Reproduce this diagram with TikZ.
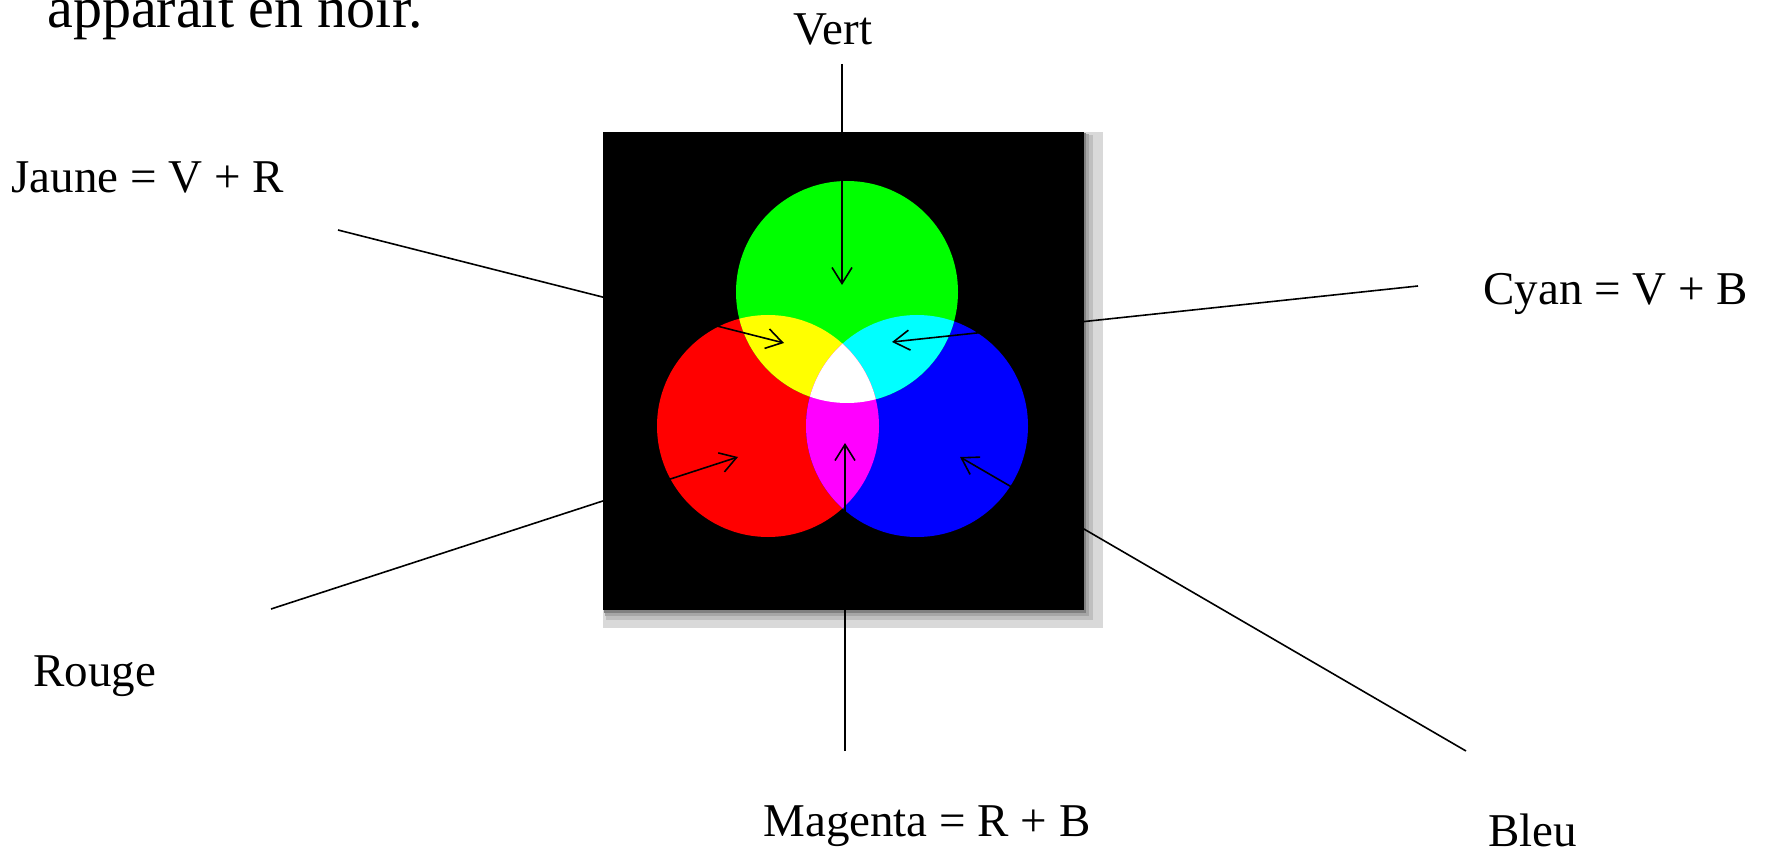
\documentclass[tikz,border=0pt]{standalone}
\usepackage{fontspec}
\setmainfont{Liberation Serif}
\usetikzlibrary{arrows.meta}
\definecolor{cR}{RGB}{255,0,0}
\definecolor{cG}{RGB}{0,255,0}
\definecolor{cB}{RGB}{0,0,255}
\definecolor{cY}{RGB}{255,255,0}
\definecolor{cC}{RGB}{0,255,255}
\definecolor{cM}{RGB}{255,0,255}
\definecolor{cW}{RGB}{255,255,255}
\begin{document}
\begin{tikzpicture}[x=0.5pt,y=-0.5pt,
  lbl/.style={inner sep=0pt, font=\fontsize{23.5}{28}\selectfont},
  callout/.style={line width=0.8pt, -{Straight Barb[length=8pt,width=10pt]}}]
\useasboundingbox (0,0) rectangle (1768,850);
\clip (0,0) rectangle (1768,850);
\node[inner sep=0pt, anchor=base west, font=\fontsize{29}{34}\selectfont] (top) at (47,28) {apparaît en noir.};
% panel with shadow
\fill[black!15] (603,132) rectangle (1103,628);
\fill[black!25] (606,135) rectangle (1093,620);
\fill[black!35] (605,134) rectangle (1089,616);
\fill[black!50] (604,133) rectangle (1086,613);
\fill[black] (603,132) rectangle (1084,610);
% circles
\coordinate (G) at (847,292);
\coordinate (R) at (768,426);
\coordinate (B) at (917,426);
\fill[cR] (R) circle (55.5pt);
\fill[cB] (B) circle (55.5pt);
\fill[cG] (G) circle (55.5pt);
\begin{scope}
  \clip (G) circle (55.5pt);
  \fill[cC] (B) circle (55.5pt);
\end{scope}
\begin{scope}
  \clip (R) circle (55.5pt);
  \fill[cY] (G) circle (55.5pt);
  \fill[cM] (B) circle (55.5pt);
  \clip (G) circle (55.5pt);
  \fill[cW] (B) circle (55.5pt);
\end{scope}
% labels
\node[lbl, anchor=base] (vert) at (833,45) {Vert};
\node[lbl, anchor=base west] (jaune) at (11,193) {Jaune = V + R};
\node[lbl, anchor=base west] (cyanl) at (1483,305) {Cyan = V + B};
\node[lbl, anchor=base west] (rouge) at (33,686) {Rouge};
\node[lbl, anchor=base west] (magental) at (763,836) {Magenta = R + B};
\node[lbl, anchor=base west] (bleu) at (1488,846) {Bleu};
% connectors
\coordinate (vS) at (842,64);   \coordinate (vT) at (842,285);
\coordinate (jS) at (338,230);  \coordinate (jT) at (784,343);
\coordinate (cS) at (1418,286); \coordinate (cT) at (892,342);
\coordinate (rS) at (271,609);  \coordinate (rT) at (738,457);
\coordinate (mS) at (845,751);  \coordinate (mT) at (845,443);
\coordinate (bS) at (1466,751); \coordinate (bT) at (960,457);
\draw[callout] (vS) -- (vT);
\draw[callout] (jS) -- (jT);
\draw[callout] (cS) -- (cT);
\draw[callout] (rS) -- (rT);
\draw[callout] (mS) -- (mT);
\draw[callout] (bS) -- (bT);
\end{tikzpicture}
\end{document}
